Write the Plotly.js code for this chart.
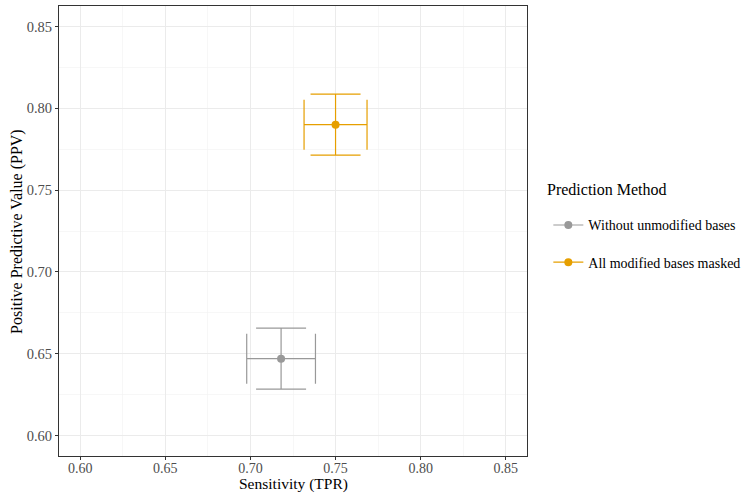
<!DOCTYPE html>
<html>
<head>
<meta charset="utf-8">
<script src="https://cdn.plot.ly/plotly-3.0.1.min.js"></script>
<style>html,body{margin:0;padding:0;background:#fff;}#chart{width:752px;height:494px;}</style>
</head>
<body>
<div id="chart"></div>
<script>
const methods = ["Without unmodified bases", "All modified bases masked"];
const colors = ["#999999", "#E69F00"];
const sensitivity = [0.718, 0.750];
const sensitivityErr = [0.0202, 0.0185];
const ppv = [0.647, 0.790];
const ppvErr = [0.0186, 0.0186];
const tickVals = [0.60, 0.65, 0.70, 0.75, 0.80, 0.85];
const tickText = ["0.60", "0.65", "0.70", "0.75", "0.80", "0.85"];
const legendTitle = "Prediction Method";
const xTitle = "Sensitivity (TPR)";
const yTitle = "Positive Predictive Value (PPV)";

const traces = methods.map((m, i) => ({
  type: "scatter",
  mode: "lines+markers",
  name: m,
  legendgroup: "g" + i,
  x: [sensitivity[i]],
  y: [ppv[i]],
  marker: {color: colors[i], size: 8},
  line: {color: colors[i], width: 1.2},
  error_x: {type: "data", array: [sensitivityErr[i]], color: colors[i], thickness: 1.2, width: 25},
  error_y: {type: "data", array: [ppvErr[i]], color: colors[i], thickness: 1.2, width: 25}
}));

const axisCommon = {
  range: [0.5875, 0.8625],
  tickvals: tickVals,
  ticktext: tickText,
  ticks: "outside",
  ticklen: 3,
  tickcolor: "#333333",
  tickwidth: 1,
  tickfont: {family: "Liberation Serif", size: 14.5, color: "#4D4D4D"},
  showgrid: true,
  gridcolor: "#EBEBEB",
  gridwidth: 1,
  minor: {dtick: 0.05, tick0: 0.625, showgrid: true, gridcolor: "#F2F2F2", gridwidth: 0.6, ticks: ""},
  showline: true,
  linecolor: "#333333",
  linewidth: 1,
  mirror: true,
  zeroline: false,
  automargin: false
};

const layout = {
  width: 752,
  height: 494,
  margin: {l: 59, r: 222, t: 6, b: 38},
  paper_bgcolor: "#ffffff",
  plot_bgcolor: "#ffffff",
  font: {family: "Liberation Serif", color: "#000000"},
  showlegend: true,
  xaxis: Object.assign({}, axisCommon, {
    tickfont: {family: "Liberation Serif", size: 14, color: "#4D4D4D"},
    ticklabelstandoff: -4
  }),
  yaxis: Object.assign({}, axisCommon),
  legend: {
    x: 1.0456, y: 0.548, xanchor: "left", yanchor: "top",
    font: {family: "Liberation Serif", size: 14, color: "#000"},
    traceorder: "grouped",
    tracegroupgap: 16,
    bgcolor: "rgba(0,0,0,0)"
  },
  annotations: [
    {text: legendTitle, xref: "paper", yref: "paper", x: 1.038, y: 0.593,
     xanchor: "left", yanchor: "middle", showarrow: false,
     font: {family: "Liberation Serif", size: 16, color: "#000"}},
    {text: xTitle, xref: "paper", yref: "paper", x: 0.5, y: -0.0844,
     xanchor: "center", yanchor: "bottom", showarrow: false, borderpad: 0,
     font: {family: "Liberation Serif", size: 15.5, color: "#000"}},
    {text: yTitle, xref: "paper", yref: "paper", x: -0.09, y: 0.5, textangle: -90,
     xanchor: "center", yanchor: "middle", showarrow: false,
     font: {family: "Liberation Serif", size: 16, color: "#000"}}
  ]
};

Plotly.newPlot("chart", traces, layout, {displayModeBar: false, staticPlot: true});
</script>
</body>
</html>
